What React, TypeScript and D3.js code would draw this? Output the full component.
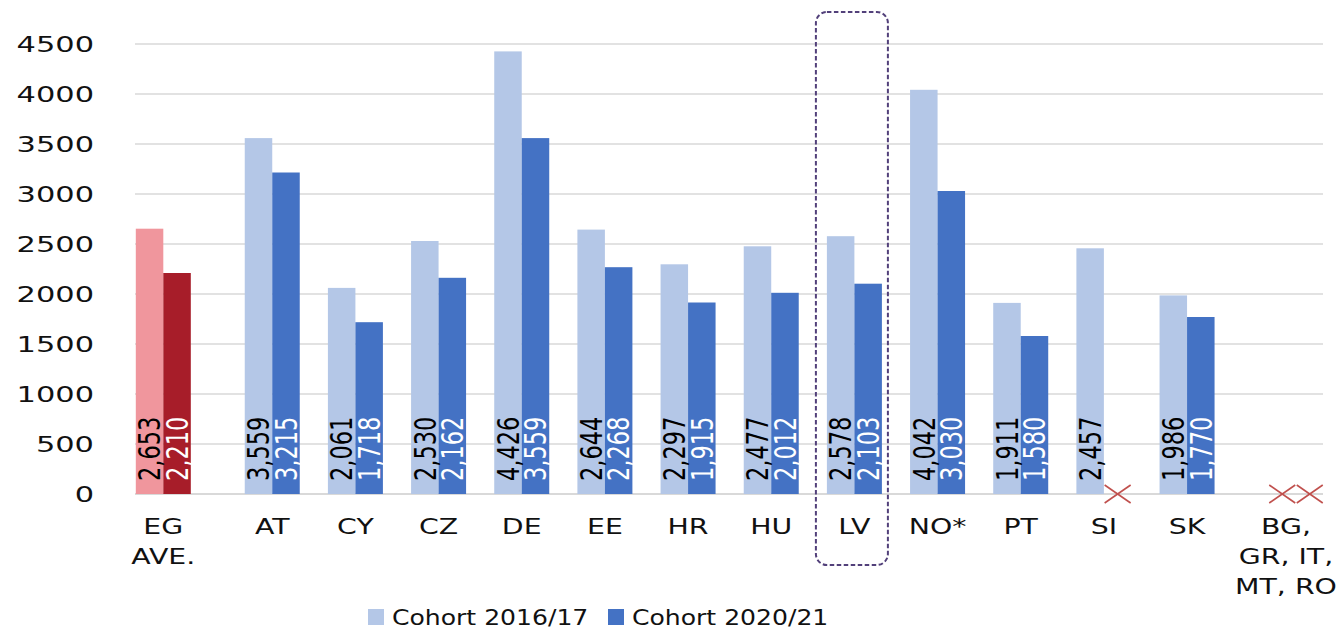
import React from "react";
import * as d3 from "d3";

const categories = ["EG|AVE.", "AT", "CY", "CZ", "DE", "EE", "HR", "HU", "LV", "NO*", "PT", "SI", "SK", "BG,|GR, IT,|MT, RO"];
const cohort1617: (number | null)[] = [2653, 3559, 2061, 2530, 4426, 2644, 2297, 2477, 2578, 4042, 1911, 2457, 1986, null];
const cohort2021: (number | null)[] = [2210, 3215, 1718, 2162, 3559, 2268, 1915, 2012, 2103, 3030, 1580, null, 1770, null];
const yTicks = [0, 500, 1000, 1500, 2000, 2500, 3000, 3500, 4000, 4500];
const seriesNames = ["Cohort 2016/17", "Cohort 2020/21"];
const highlighted = "LV";

const W = 1344, H = 630;
const COL_LIGHT = "#b4c7e7", COL_DARK = "#4472c4";
const COL_EG_LIGHT = "#f0969d", COL_EG_DARK = "#a71d29";
const NARROW = "'Liberation Sans Narrow', 'DejaVu Sans Condensed', 'Arial Narrow', sans-serif";
const WIDE = "'DejaVu Sans', Verdana, sans-serif";

// slot index: extra spacing before the 2nd and last groups
const slot = (i: number) => i + (i >= 1 ? 0.31 : 0) + (i >= categories.length - 1 ? 0.31 : 0);

export default function App() {
  const x = d3.scaleLinear().domain([0, slot(categories.length - 1)]).range([163.3, 1296]);
  const y = d3.scaleLinear().domain([0, 4500]).range([494, 44]);
  const bw = 27.5;
  const gridX0 = 135, gridX1 = 1323;

  const bars: React.ReactNode[] = [];
  const labels: React.ReactNode[] = [];
  const crosses: React.ReactNode[] = [];
  categories.forEach((c, i) => {
    const cx = x(slot(i));
    const isEG = i === 0;
    [cohort1617[i], cohort2021[i]].forEach((v, s) => {
      const x0 = s === 0 ? cx - bw : cx;
      const mid = x0 + bw / 2;
      if (v == null) {
        const hw = 13, hh = 9;
        crosses.push(
          <g key={`x${i}-${s}`} stroke="#c0504d" strokeWidth={1.6}>
            <line x1={mid - hw} y1={y(0) - hh} x2={mid + hw} y2={y(0) + hh} />
            <line x1={mid - hw} y1={y(0) + hh} x2={mid + hw} y2={y(0) - hh} />
          </g>
        );
        return;
      }
      const fill = isEG ? (s === 0 ? COL_EG_LIGHT : COL_EG_DARK) : s === 0 ? COL_LIGHT : COL_DARK;
      bars.push(<rect key={`b${i}-${s}`} x={x0} y={y(v)} width={bw} height={y(0) - y(v)} fill={fill} />);
      labels.push(
        <text
          key={`l${i}-${s}`}
          transform={`translate(${mid},${y(0) - 13}) rotate(-90) scale(1,1.2)`}
          dy="0.36em"
          fontFamily={NARROW}
          fontSize={25}
          fill={s === 0 ? "#000" : "#fff"}
          textAnchor="start"
        >
          {d3.format(",")(v)}
        </text>
      );
    });
  });

  const hiIdx = categories.indexOf(highlighted);
  const hiX = x(slot(hiIdx));

  return (
    <svg width={W} height={H} style={{ position: "absolute", left: 0, top: 0, background: "#fff" }}>
      {yTicks.map((t) => (
        <g key={t}>
          <line x1={gridX0} x2={gridX1} y1={y(t)} y2={y(t)} stroke="#d9d9d9" strokeWidth={t === 0 ? 2 : 1.5} />
          <text
            transform={`translate(94,${y(t)}) scale(1.45,1)`}
            dy="0.36em"
            textAnchor="end"
            fontFamily={WIDE}
            fontSize={21}
            fill="#111"
          >
            {t}
          </text>
        </g>
      ))}
      {bars}
      {labels}
      {crosses}
      {categories.map((c, i) => {
        const lines = c.split("|");
        const cx = i === categories.length - 1 ? x(slot(i)) - 10 : x(slot(i));
        return (
          <g key={`c${i}`}>
            {lines.map((ln, k) => (
              <text
                key={k}
                transform={`translate(${cx},${534 + k * 30}) scale(1.32,1)`}
                textAnchor="middle"
                fontFamily={WIDE}
                fontSize={21.5}
                fill="#111"
              >
                {ln}
              </text>
            ))}
          </g>
        );
      })}
      <rect
        x={hiX - 38.5}
        y={12}
        width={72}
        height={553}
        rx={11}
        ry={11}
        fill="none"
        stroke="#52407a"
        strokeWidth={2}
        strokeDasharray="4.5,2.5"
      />
      {seriesNames.map((n, s) => {
        const lx = 368 + s * 240;
        return (
          <g key={n}>
            <rect x={lx} y={609} width={16} height={16} fill={s === 0 ? COL_LIGHT : COL_DARK} />
            <text
              transform={`translate(${lx + 24},625) scale(1.14,1)`}
              fontFamily={WIDE}
              fontSize={22}
              fill="#111"
            >
              {n}
            </text>
          </g>
        );
      })}
    </svg>
  );
}
